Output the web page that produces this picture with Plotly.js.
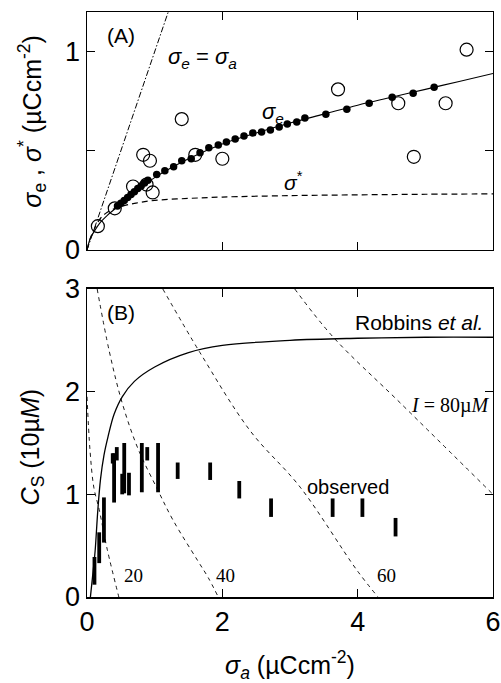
<!DOCTYPE html>
<html>
<head>
<meta charset="utf-8">
<script src="https://cdn.plot.ly/plotly-3.0.1.min.js"></script>
<style>html,body{margin:0;padding:0;background:#fff;}#chart{width:501px;height:683px;}</style>
</head>
<body>
<div id="chart"></div>
<script>
// ---------- Panel A data ----------
var identX = [0, 1.2];
var identY = [0, 1.2];

var sigeLineX = [0, 0.05, 0.1, 0.2, 0.3, 0.46, 0.7, 1.0, 1.5, 2.0, 2.5, 3.0, 3.5, 4.0, 4.5, 5.0, 5.5, 6.0];
var sigeLineY = [0, 0.06, 0.09, 0.14, 0.175, 0.22, 0.29, 0.365, 0.46, 0.535, 0.59, 0.64, 0.685, 0.73, 0.77, 0.81, 0.85, 0.89];

var sigStarX = [0, 0.05, 0.1, 0.2, 0.3, 0.46, 0.7, 1.0, 1.5, 2.0, 3.0, 4.0, 5.0, 6.0];
var sigStarY = [0, 0.06, 0.1, 0.16, 0.19, 0.215, 0.235, 0.25, 0.26, 0.267, 0.274, 0.278, 0.281, 0.283];

var dotsX = [0.45, 0.5, 0.55, 0.6, 0.65, 0.7, 0.75, 0.8, 0.85, 0.9, 1.03, 1.15, 1.28, 1.40, 1.54, 1.67, 1.80, 1.94, 2.06, 2.19, 2.32, 2.45, 2.58, 2.71, 2.84, 2.96, 3.10, 3.22, 3.53, 3.84, 4.17, 4.51, 4.82, 5.13];
var dotsY = [0.222, 0.236, 0.25, 0.265, 0.28, 0.294, 0.31, 0.323, 0.338, 0.352, 0.38, 0.40, 0.42, 0.45, 0.46, 0.49, 0.515, 0.53, 0.545, 0.56, 0.575, 0.59, 0.595, 0.605, 0.62, 0.635, 0.645, 0.665, 0.685, 0.71, 0.74, 0.77, 0.79, 0.82];

var openX = [0.16, 0.41, 0.68, 0.88, 0.97, 0.83, 0.93, 1.40, 1.60, 2.0, 3.71, 4.60, 4.83, 5.30, 5.61];
var openY = [0.12, 0.21, 0.32, 0.33, 0.29, 0.48, 0.45, 0.66, 0.48, 0.46, 0.81, 0.74, 0.47, 0.74, 1.01];

// ---------- Panel B data ----------
var robX = [0.05, 0.09, 0.12, 0.16, 0.2, 0.25, 0.31, 0.4, 0.52, 0.7, 1.0, 1.5, 2.0, 3.0, 4.0, 5.0, 6.0];
var robY = [0, 0.25, 0.45, 0.85, 1.15, 1.38, 1.56, 1.78, 1.95, 2.1, 2.24, 2.38, 2.45, 2.5, 2.52, 2.53, 2.53];

var i20X = [0.0, 0.044, 0.10, 0.18, 0.30, 0.47];
var i20Y = [1.95, 1.43, 1.07, 0.85, 0.46, 0.0];
var i40X = [0.15, 0.33, 0.52, 0.75, 1.04, 1.27, 1.63, 1.79, 1.94];
var i40Y = [3.0, 2.39, 1.89, 1.45, 1.05, 0.75, 0.36, 0.19, 0.0];
var i60X = [1.12, 1.67, 2.41, 3.15, 3.99, 4.30];
var i60Y = [3.0, 2.38, 1.62, 1.07, 0.26, 0.0];
var i80X = [3.07, 3.64, 4.63, 6.0];
var i80Y = [3.0, 2.53, 1.89, 1.0];

var obsX    = [0.11, 0.18, 0.25, 0.38, 0.40, 0.44, 0.52, 0.55, 0.62, 0.81, 0.89, 1.05, 1.34, 1.82, 2.25, 2.72, 3.63, 4.07, 4.56];
var obsLow  = [0.12, 0.33, 0.53, 1.30, 0.92, 1.33, 1.00, 1.01, 0.99, 1.02, 1.33, 1.02, 1.15, 1.14, 0.96, 0.78, 0.78, 0.78, 0.59];
var obsHigh = [0.39, 0.63, 0.97, 1.40, 1.40, 1.46, 1.20, 1.50, 1.21, 1.50, 1.46, 1.50, 1.31, 1.31, 1.13, 0.96, 0.96, 0.96, 0.77];

var tickA = [0, 0.5, 1];
var tickAText = ['0', '', '1'];
var tickB = [0, 1, 2, 3];
var tickX = [0, 2, 4, 6];

// build observed vertical bars
var barX = [], barY = [];
for (var i = 0; i < obsX.length; i++) {
  barX.push(obsX[i], obsX[i], null);
  barY.push(obsLow[i], obsHigh[i], null);
}

var K = '#000';
var traces = [
  {x: identX, y: identY, xaxis: 'x', yaxis: 'y', mode: 'lines', line: {color: K, width: 1, dash: '6px,2px,1.5px,2px'}},
  {x: sigeLineX, y: sigeLineY, xaxis: 'x', yaxis: 'y', mode: 'lines', line: {color: K, width: 1.1, shape: 'spline'}},
  {x: sigStarX, y: sigStarY, xaxis: 'x', yaxis: 'y', mode: 'lines', line: {color: K, width: 1.2, dash: '6px,4px', shape: 'spline'}},
  {x: openX, y: openY, xaxis: 'x', yaxis: 'y', mode: 'markers', marker: {symbol: 'circle-open', size: 13, color: K, line: {width: 1.2, color: K}}},
  {x: dotsX, y: dotsY, xaxis: 'x', yaxis: 'y', mode: 'markers', marker: {symbol: 'circle', size: 7.5, color: K}},

  {x: i20X, y: i20Y, xaxis: 'x2', yaxis: 'y2', mode: 'lines', line: {color: K, width: 0.9, dash: '4px,4px', shape: 'spline'}},
  {x: i40X, y: i40Y, xaxis: 'x2', yaxis: 'y2', mode: 'lines', line: {color: K, width: 0.9, dash: '4px,4px', shape: 'spline'}},
  {x: i60X, y: i60Y, xaxis: 'x2', yaxis: 'y2', mode: 'lines', line: {color: K, width: 0.9, dash: '4px,4px', shape: 'spline'}},
  {x: i80X, y: i80Y, xaxis: 'x2', yaxis: 'y2', mode: 'lines', line: {color: K, width: 0.9, dash: '4px,4px', shape: 'spline'}},
  {x: robX, y: robY, xaxis: 'x2', yaxis: 'y2', mode: 'lines', line: {color: K, width: 1.3, shape: 'spline'}},
  {x: barX, y: barY, xaxis: 'x2', yaxis: 'y2', mode: 'lines', connectgaps: false, line: {color: K, width: 3.8}}
];

var sans = 'Liberation Sans, Arial, sans-serif';
var serif = 'Liberation Serif, Times New Roman, serif';
var tickFont = {family: sans, size: 27, color: K};
var titleFont = {family: sans, size: 25, color: K};
var common = {showline: true, linecolor: K, linewidth: 1.5, mirror: 'ticks', ticks: 'inside', ticklen: 8, tickwidth: 1.2, tickcolor: K, showgrid: false, zeroline: false, tickfont: tickFont};

var layout = {
  width: 501, height: 683,
  margin: {l: 0, r: 0, t: 0, b: 0},
  paper_bgcolor: '#fff', plot_bgcolor: '#fff',
  showlegend: false,
  xaxis: Object.assign({}, common, {domain: [0.1737, 0.984], anchor: 'y', range: [0, 6], tickmode: 'array', tickvals: tickX, showticklabels: false}),
  yaxis: Object.assign({}, common, {domain: [0.634, 0.9824], anchor: 'x', range: [0, 1.2], tickmode: 'array', tickvals: tickA, ticktext: tickAText}),
  xaxis2: Object.assign({}, common, {domain: [0.1737, 0.984], anchor: 'y2', range: [0, 6], tickmode: 'array', tickvals: tickX,
    title: {text: '<i>σ</i><sub><i>a</i></sub> (µCcm<sup>-2</sup>)', font: titleFont, standoff: 22}}),
  yaxis2: Object.assign({}, common, {domain: [0.1259, 0.5769], anchor: 'x2', range: [0, 3], tickmode: 'array', tickvals: tickB}),
  annotations: [
    {xref: 'paper', yref: 'paper', x: 0.064, y: 0.822, xanchor: 'center', yanchor: 'middle', textangle: -90, text: '<i>σ</i><sub>e</sub> , <i>σ</i><sup>*</sup> (µCcm<sup>-2</sup>)', showarrow: false, font: titleFont},
    {xref: 'paper', yref: 'paper', x: 0.064, y: 0.345, xanchor: 'center', yanchor: 'middle', textangle: -90, text: '<i>C</i><sub>S</sub> (10µ<i>M</i>)', showarrow: false, font: titleFont},
    {xref: 'x', yref: 'y', x: 0.5, y: 1.08, text: '(A)', showarrow: false, font: {family: sans, size: 21, color: K}},
    {xref: 'x', yref: 'y', x: 1.7, y: 0.97, text: '<i>σ</i><sub><i>e</i></sub> = <i>σ</i><sub><i>a</i></sub>', showarrow: false, font: {family: sans, size: 22, color: K}},
    {xref: 'x', yref: 'y', x: 2.75, y: 0.69, text: '<i>σ</i><sub><i>e</i></sub>', showarrow: false, font: {family: sans, size: 22, color: K}},
    {xref: 'x', yref: 'y', x: 3.05, y: 0.35, text: '<i>σ</i><sup>*</sup>', showarrow: false, font: {family: sans, size: 21, color: K}},
    {xref: 'x2', yref: 'y2', x: 0.5, y: 2.77, text: '(B)', showarrow: false, font: {family: sans, size: 21, color: K}},
    {xref: 'x2', yref: 'y2', x: 5.88, y: 2.67, xanchor: 'right', text: 'Robbins <i>et al.</i>', showarrow: false, font: {family: sans, size: 21, color: K}},
    {xref: 'x2', yref: 'y2', x: 5.97, y: 1.87, xanchor: 'right', text: '<i>I</i> = 80µ<i>M</i>', showarrow: false, font: {family: serif, size: 20, color: K}},
    {xref: 'x2', yref: 'y2', x: 3.85, y: 1.07, text: 'observed', showarrow: false, font: {family: sans, size: 20, color: K}},
    {xref: 'x2', yref: 'y2', x: 0.68, y: 0.21, text: '20', showarrow: false, font: {family: serif, size: 19, color: K}},
    {xref: 'x2', yref: 'y2', x: 2.05, y: 0.21, text: '40', showarrow: false, font: {family: serif, size: 19, color: K}},
    {xref: 'x2', yref: 'y2', x: 4.42, y: 0.21, text: '60', showarrow: false, font: {family: serif, size: 19, color: K}}
  ]
};

Plotly.newPlot('chart', traces, layout, {displayModeBar: false, staticPlot: true});
</script>
</body>
</html>
